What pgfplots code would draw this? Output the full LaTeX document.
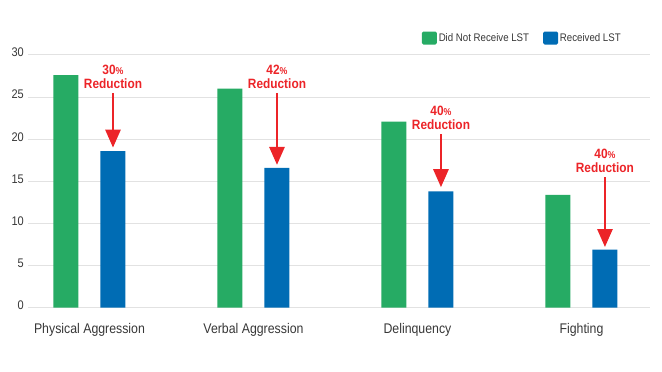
\documentclass[border=0pt]{standalone}
\usepackage{pgfplots}
\pgfplotsset{compat=1.18}
\usepackage{fontspec}
\setmainfont{Liberation Sans}[FakeStretch=0.88]
\usetikzlibrary{arrows.meta}
\definecolor{lstgreen}{RGB}{38,171,100}
\definecolor{lstblue}{RGB}{0,108,180}
\definecolor{lstred}{RGB}{236,36,40}
\definecolor{gridgray}{RGB}{226,226,226}
\definecolor{txtgray}{RGB}{55,55,55}
\begin{document}
\begin{tikzpicture}
\path[use as bounding box] (-28pt,-64.3pt) rectangle (634pt,307.7pt);
\begin{axis}[
  at={(0pt,0pt)}, anchor=south west,
  scale only axis, width=622pt, height=252.7pt,
  xmin=-0.375, xmax=3.418, ymin=0, ymax=30,
  ybar=22pt, bar width=25pt,
  xtick={0,1,2,3},
  xticklabels={Physical Aggression, Verbal Aggression, Delinquency, Fighting},
  ytick={0,5,...,30},
  ymajorgrids, major grid style={gridgray, line width=1pt},
  axis line style={draw=none}, major tick length=0pt,
  /pgf/number format/assume math mode=true,
  yticklabel style={font=\fontsize{12.5}{12.5}\selectfont, text=txtgray, anchor=east, inner sep=0pt, xshift=-4pt, yshift=2.5pt},
  xticklabel style={font=\fontsize{14}{14}\selectfont, text=txtgray, anchor=base, inner sep=0pt, yshift=-25.5pt},
  legend style={at={(0.633,1.067)}, anchor=west, draw=none, fill=none, inner sep=0pt,
    legend columns=2, font=\fontsize{11}{11}\selectfont, text=txtgray,
    nodes={inner sep=0pt}, /tikz/every even column/.append style={column sep=14pt}},
  clip=false,
]
\addplot[fill=lstgreen, draw=none,
  legend image code/.code={\fill[lstgreen, rounded corners=1.5pt] (0pt,-6.5pt) rectangle (15pt,6.5pt);}]
  coordinates {(0,27.6) (1,26.0) (2,22.1) (3,13.4)};
\addlegendentry{\,Did Not Receive LST}
\addplot[fill=lstblue, draw=none,
  legend image code/.code={\fill[lstblue, rounded corners=1.5pt] (0pt,-6.5pt) rectangle (15pt,6.5pt);}]
  coordinates {(0,18.6) (1,16.6) (2,13.8) (3,6.9)};
\addlegendentry{\,Received LST}

\tikzset{redarr/.style={draw=lstred, line width=2.7pt, -{Triangle[width=15pt,length=18pt]}},
  redtxt/.style={text=lstred, inner sep=0pt, font=\fontsize{13.5}{13.5}\selectfont\bfseries}}
% group 1
\node[redtxt] at (axis cs:0.1433,28.2) {30{\fontsize{10}{10}\selectfont\%}};
\node[redtxt] at (axis cs:0.1433,26.6) {Reduction};
\draw[redarr] (axis cs:0.1433,25.5) -- (axis cs:0.1433,19.0);
% group 2
\node[redtxt] at (axis cs:1.1433,28.2) {42{\fontsize{10}{10}\selectfont\%}};
\node[redtxt] at (axis cs:1.1433,26.6) {Reduction};
\draw[redarr] (axis cs:1.1433,25.5) -- (axis cs:1.1433,16.95);
% group 3
\node[redtxt] at (axis cs:2.1433,23.4) {40{\fontsize{10}{10}\selectfont\%}};
\node[redtxt] at (axis cs:2.1433,21.75) {Reduction};
\draw[redarr] (axis cs:2.1433,20.6) -- (axis cs:2.1433,14.3);
% group 4
\node[redtxt] at (axis cs:3.1433,18.3) {40{\fontsize{10}{10}\selectfont\%}};
\node[redtxt] at (axis cs:3.1433,16.6) {Reduction};
\draw[redarr] (axis cs:3.1433,15.5) -- (axis cs:3.1433,7.2);
\end{axis}
\end{tikzpicture}
\end{document}
